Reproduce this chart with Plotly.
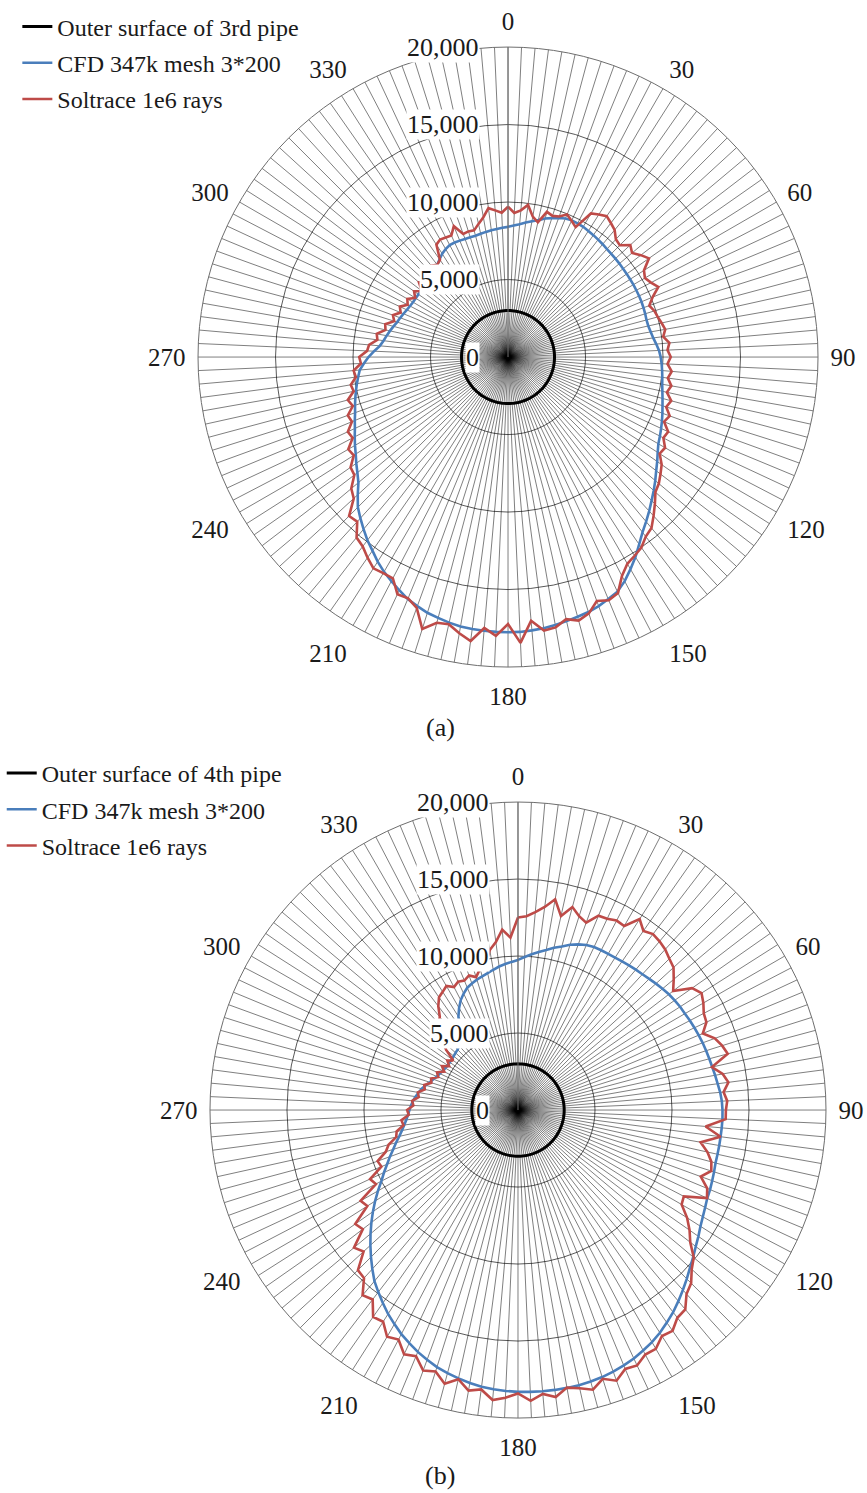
import plotly.graph_objects as go

W, H = 867, 1493

# Angular categories: one spoke every 2.5 degrees, labelled every 30 degrees
angles = [i * 2.5 for i in range(144)]
angle_text = [str(int(a)) if a % 30 == 0 else "" for a in angles]

radial_max = 20000
radial_ticks = [0, 5000, 10000, 15000, 20000]
radial_labels = ["0", "5,000", "10,000", "15,000", "20,000"]

# Outer surface of the pipes (constant radius reference line)
pipe_3rd = [3000] * 144
pipe_4th = [3000] * 144

# (a) 3rd pipe: heat flux around circumference
cfd_3rd = [
    8400, 8500, 8600, 8750, 8900, 9050, 9250, 9400, 9550, 9680, 9730, 9720,
    9700, 9650, 9600, 9550, 9500, 9450, 9420, 9400, 9380, 9360, 9350, 9340,
    9340, 9330, 9330, 9320, 9300, 9280, 9250, 9270, 9350, 9450, 9600, 9750,
    9850, 9920, 9980, 10040, 10100, 10200, 10320, 10450, 10600, 10750, 10900, 11050,
    11200, 11450, 11750, 12050, 12400, 12750, 13100, 13480, 13860, 14250, 14750, 15300,
    15800, 16300, 16700, 16900, 17100, 17250, 17350, 17450, 17550, 17650, 17700, 17750,
    17750, 17750, 17730, 17700, 17650, 17550, 17420, 17300, 17100, 16900, 16600, 16300,
    16000, 15650, 15250, 14900, 14500, 14100, 13700, 13150, 12600, 12250, 11950, 11650,
    11400, 11150, 10900, 10700, 10500, 10350, 10200, 10050, 9900, 9750, 9600, 9300,
    9000, 8650, 8300, 8100, 7950, 7800, 7650, 7500, 7400, 7300, 7200, 7130,
    7080, 7060, 7050, 7070, 7100, 7130, 7170, 7200, 7350, 7500, 7700, 7900,
    8050, 8150, 8150, 8130, 8110, 8100, 8100, 8150, 8200, 8250, 8300, 8350,
]
soltrace_3rd = [
    9700, 9300, 9500, 9900, 9200, 8900, 9700, 9550, 9650, 9950, 9700, 9450,
    10700, 10900, 11100, 10900, 10700, 10300, 10200, 10700, 10450, 10800, 11100, 10400,
    10200, 10400, 10700, 10100, 9700, 9900, 10000, 10150, 10300, 10100, 10450, 10300,
    10500, 10300, 10600, 10400, 10700, 10500, 10900, 10700, 11100, 10900, 11400, 11300,
    11700, 11600, 12100, 12400, 12700, 12900, 13400, 13900, 14400, 14600, 15000, 15200,
    15400, 15920, 16790, 16980, 16750, 17340, 17600, 17320, 17710, 17800, 17080, 18460,
    17220, 18010, 17550, 18480, 18100, 17660, 17750, 18400, 17220, 16850, 16880, 16090,
    16100, 16160, 15800, 15400, 15200, 14400, 14500, 13500, 13200, 12500, 12400, 11800,
    11900, 11300, 11400, 10900, 11000, 10500, 10700, 10200, 10300, 9900, 10000, 9500,
    9600, 9100, 9000, 8500, 8600, 8100, 8200, 7700, 7900, 7500, 7700, 7300,
    7500, 7100, 7400, 7000, 7500, 7200, 7600, 7300, 7700, 7500, 7650, 8600,
    8760, 8700, 8650, 9140, 8450, 8500, 8460, 8800, 9160, 9690, 9500, 9320,
]

# (b) 4th pipe: heat flux around circumference
cfd_4th = [
    9750, 9950, 10150, 10350, 10550, 10800, 11000, 11250, 11450, 11600, 11680, 11700,
    11710, 11730, 11780, 11840, 11900, 11960, 12050, 12150, 12250, 12350, 12420, 12480,
    12520, 12580, 12640, 12700, 12760, 12810, 12860, 12920, 13000, 13080, 13180, 13250,
    13280, 13290, 13280, 13270, 13270, 13270, 13280, 13350, 13420, 13500, 13560, 13700,
    13860, 14050, 14300, 14550, 14850, 15150, 15500, 15850, 16200, 16550, 16850, 17150,
    17400, 17600, 17800, 17950, 18080, 18180, 18250, 18300, 18320, 18330, 18330, 18320,
    18300, 18260, 18200, 18120, 18000, 17850, 17680, 17500, 17250, 17000, 16700, 16400,
    16050, 15700, 15300, 14900, 14500, 14000, 13500, 13000, 12500, 12000, 11500, 11000,
    10500, 10000, 9600, 9200, 8850, 8500, 8200, 7900, 7650, 7450, 7280, 7150,
    7050, 6950, 6850, 6700, 6550, 6400, 6200, 6000, 5850, 5700, 5600, 5500,
    5450, 5400, 5400, 5400, 5450, 5500, 5550, 5650, 5800, 6100, 6600, 7200,
    7650, 8050, 8350, 8600, 8750, 8880, 8980, 9100, 9250, 9400, 9520, 9630,
]
soltrace_4th = [
    12500, 12600, 12900, 13300, 13900, 12900, 13650, 13200, 12950, 13660, 13700, 13870,
    13800, 14700, 14200, 14400, 14300, 14150, 13900, 13700, 13200, 12700, 13800, 14130,
    13900, 13600, 13500, 12990, 13600, 13900, 14100, 12900, 13500, 13780, 13400, 13600,
    13500, 13500, 12230, 13270, 12040, 12600, 13000, 13160, 12630, 13300, 13540, 12140,
    12270, 13020, 13600, 14100, 14900, 15300, 15900, 16200, 16900, 17000, 17500, 17400,
    17900, 17900, 18300, 18200, 18700, 18300, 18800, 18500, 18300, 18800, 18500, 18900,
    18400, 18700, 18900, 18300, 18500, 17900, 18400, 17800, 18000, 17300, 17500, 16800,
    17000, 16300, 16400, 15500, 15700, 14800, 14700, 13600, 13900, 12700, 12900, 11600,
    11800, 10400, 10600, 9600, 9700, 9000, 8700, 8100, 8000, 7500, 7600, 7100,
    7200, 6800, 6900, 6500, 6600, 6200, 6300, 5900, 6000, 5600, 5800, 5400,
    5700, 5300, 5600, 5300, 6100, 6500, 7200, 7600, 7900, 8500, 8940, 9100,
    9300, 9000, 9200, 9100, 9300, 9050, 9500, 9700, 10550, 11000, 11760, 11210,
]

SERIF = "Liberation Serif"
INK = "#1a1a1a"
BLACK = "#000000"
BLUE = "#4a7ebb"
RED = "#be4b48"

DOMAIN_A = ([0.2284, 0.9435], [0.5532, 0.9685])
DOMAIN_B = ([0.2422, 0.9527], [0.0502, 0.4628])
LABEL_GAP = 28  # px between the value axis and the right edge of its labels

fig = go.Figure()


def closed(values):
    return values + values[:1]


def add_series(subplot, legend, group_names, pipe, cfd, sol):
    specs = [
        (group_names[0], pipe, BLACK, 3),
        (group_names[1], cfd, BLUE, 2.6),
        (group_names[2], sol, RED, 2.6),
    ]
    for k, (name, vals, color, width) in enumerate(specs):
        fig.add_trace(go.Scatterpolar(
            r=closed(vals), theta=closed(angles), mode="lines",
            line=dict(color=color, width=width),
            name=name, subplot=subplot, legend=legend,
            legendgroup=f"{legend}_{k}",
        ))


add_series("polar", "legend",
           ["Outer surface of 3rd pipe", "CFD 347k mesh 3*200", "Soltrace 1e6 rays"],
           pipe_3rd, cfd_3rd, soltrace_3rd)
add_series("polar2", "legend2",
           ["Outer surface of 4th pipe", "CFD 347k mesh 3*200", "Soltrace 1e6 rays"],
           pipe_4th, cfd_4th, soltrace_4th)


def polar_layout(domain):
    dx, dy = domain
    return dict(
        domain=dict(x=dx, y=dy),
        bgcolor="white",
        angularaxis=dict(
            rotation=90, direction="clockwise", thetaunit="degrees",
            tickmode="array", tickvals=angles, ticktext=angle_text,
            # translucent spokes so they darken where they converge at the centre
            showgrid=True, gridcolor="rgba(0,0,0,0.5)", gridwidth=1,
            showline=True, linecolor="#6e6e6e", linewidth=1,
            ticks="outside", ticklen=7, tickcolor="rgba(0,0,0,0)",
            tickfont=dict(family=SERIF, size=25, color=INK),
        ),
        radialaxis=dict(
            range=[0, radial_max], tickmode="array",
            tickvals=radial_ticks, showticklabels=False,
            angle=90, showgrid=True, gridcolor="rgba(0,0,0,0.65)", gridwidth=1,
            showline=True, linecolor="#6e6e6e", linewidth=1, ticks="",
        ),
    )


def value_labels(domain):
    """Boxed value-axis labels placed along the vertical (0 degree) axis."""
    dx, dy = domain
    cx = (dx[0] + dx[1]) / 2
    cy = (dy[0] + dy[1]) / 2
    radius_px = min((dx[1] - dx[0]) * W, (dy[1] - dy[0]) * H) / 2
    out = []
    for v, t in zip(radial_ticks, radial_labels):
        out.append(dict(
            text=t, x=cx - LABEL_GAP / W, y=cy + v / radial_max * radius_px / H,
            xref="paper", yref="paper", xanchor="right", yanchor="middle",
            showarrow=False, bgcolor="white", borderpad=0,
            font=dict(family=SERIF, size=26, color=INK),
        ))
    return out


legend_style = dict(
    font=dict(family=SERIF, size=24, color=INK),
    bgcolor="rgba(0,0,0,0)", tracegroupgap=2,
    xanchor="left", yanchor="top", itemwidth=30,
)

captions = [
    dict(text="(a)", x=0.508, y=1 - 727 / H, xref="paper", yref="paper",
         xanchor="center", yanchor="middle", showarrow=False,
         font=dict(family=SERIF, size=26, color=INK)),
    dict(text="(b)", x=0.508, y=1 - 1475 / H, xref="paper", yref="paper",
         xanchor="center", yanchor="middle", showarrow=False,
         font=dict(family=SERIF, size=26, color=INK)),
]

fig.update_layout(
    width=W, height=H,
    margin=dict(l=0, r=0, t=0, b=0),
    paper_bgcolor="white", plot_bgcolor="white",
    polar=polar_layout(DOMAIN_A),
    polar2=polar_layout(DOMAIN_B),
    legend=dict(x=0.02, y=0.997, **legend_style),
    legend2=dict(x=0.002, y=0.497, **legend_style),
    annotations=captions + value_labels(DOMAIN_A) + value_labels(DOMAIN_B),
)

fig.write_html("out.html")
